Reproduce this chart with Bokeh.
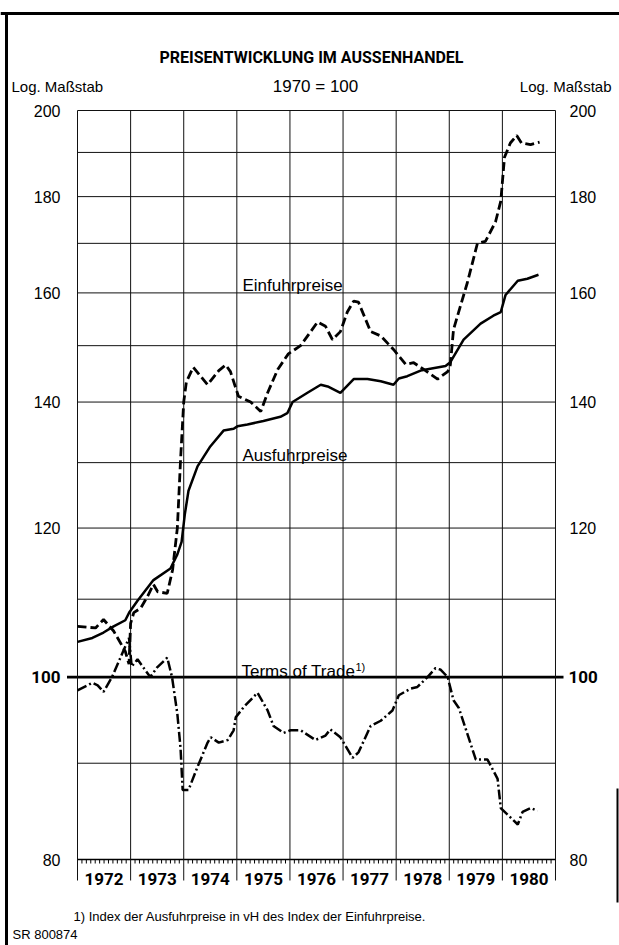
import math
from bokeh.plotting import figure
from bokeh.models import Range1d, Label, ColumnDataSource
from bokeh.core.properties import value
from bokeh.embed import file_html
from bokeh.resources import INLINE

# ---------------- data ----------------
einfuhr_t = [1972.00, 1972.34, 1972.49, 1972.68, 1972.90, 1972.97, 1973.00, 1973.06, 1973.19,
             1973.32, 1973.43, 1973.51, 1973.69, 1973.79, 1973.88, 1973.94, 1974.00, 1974.05,
             1974.18, 1974.45, 1974.66, 1974.79, 1974.88, 1975.03, 1975.26, 1975.45, 1975.58,
             1975.77, 1975.97, 1976.20, 1976.52, 1976.67, 1976.80, 1976.95, 1977.08, 1977.20,
             1977.29, 1977.52, 1977.71, 1977.95, 1978.18, 1978.33, 1978.52, 1978.78, 1978.97,
             1979.02, 1979.08, 1979.34, 1979.53, 1979.68, 1979.87, 1979.97, 1980.04, 1980.15,
             1980.27, 1980.36, 1980.53, 1980.70]
einfuhr_v = [106.4, 106.2, 107.3, 105.8, 103.2, 101.6, 106.8, 108.2, 108.8,
             110.4, 112.0, 111.0, 110.8, 114.0, 120.0, 130.4, 140.0, 143.5,
             146.1, 143.0, 145.5, 146.5, 145.3, 141.0, 140.0, 138.4, 141.6,
             145.7, 148.5, 150.0, 154.4, 153.6, 151.1, 152.6, 156.3, 158.4,
             158.2, 152.6, 151.8, 149.3, 146.6, 146.9, 145.7, 144.0, 145.3,
             146.5, 153.0, 162.0, 170.0, 170.4, 174.5, 179.0, 188.9, 192.2,
             194.0, 192.2, 191.8, 192.4]

ausfuhr_t = [1972.00, 1972.28, 1972.49, 1972.68, 1972.90, 1972.98, 1973.13, 1973.43, 1973.75,
             1973.88, 1973.96, 1974.02, 1974.09, 1974.26, 1974.50, 1974.75, 1974.94, 1975.01,
             1975.20, 1975.50, 1975.82, 1975.95, 1976.05, 1976.33, 1976.58, 1976.71, 1976.95,
             1977.20, 1977.46, 1977.71, 1977.95, 1978.05, 1978.21, 1978.46, 1978.93, 1979.02,
             1979.27, 1979.59, 1979.83, 1979.97, 1980.06, 1980.29, 1980.47, 1980.68]
ausfuhr_v = [104.4, 104.9, 105.6, 106.4, 107.2, 108.3, 109.8, 112.6, 114.2,
             116.2, 118.0, 122.0, 125.6, 129.4, 132.6, 135.2, 135.5, 135.9,
             136.2, 136.8, 137.5, 138.1, 140.0, 141.6, 143.0, 142.7, 141.6,
             144.0, 144.0, 143.6, 143.0, 144.1, 144.5, 145.5, 146.3, 147.0,
             151.1, 154.1, 155.6, 156.3, 159.6, 162.4, 162.8, 163.6]

tot_t = [1972.00, 1972.28, 1972.38, 1972.49, 1972.65, 1972.86, 1972.97, 1973.02, 1973.13,
         1973.37, 1973.50, 1973.69, 1973.78, 1973.88, 1973.94, 1973.98, 1974.09, 1974.26,
         1974.45, 1974.51, 1974.66, 1974.83, 1974.94, 1974.98, 1975.13, 1975.39, 1975.58,
         1975.69, 1975.88, 1976.01, 1976.20, 1976.48, 1976.67, 1976.76, 1976.95, 1977.18,
         1977.29, 1977.52, 1977.71, 1977.93, 1978.05, 1978.27, 1978.40, 1978.59, 1978.74,
         1978.84, 1978.97, 1979.08, 1979.18, 1979.50, 1979.72, 1979.91, 1979.97, 1980.29,
         1980.38, 1980.53, 1980.66]
tot_v = [98.4, 99.3, 99.0, 98.2, 100.0, 103.2, 104.9, 101.3, 102.2,
         100.0, 101.2, 102.4, 100.0, 95.6, 91.7, 87.1, 87.1, 89.6,
         92.3, 92.9, 92.3, 92.6, 93.7, 95.2, 96.4, 98.1, 96.0,
         94.2, 93.4, 93.7, 93.7, 92.6, 93.1, 93.8, 92.9, 90.6,
         91.2, 94.2, 94.8, 96.0, 97.8, 98.6, 98.8, 100.0, 101.1,
         100.9, 100.0, 97.2, 96.3, 90.4, 90.4, 88.3, 85.2, 83.5,
         84.8, 85.2, 84.9]

years = [1972, 1973, 1974, 1975, 1976, 1977, 1978, 1979, 1980]
year_labels = ["1972", "1973", "1974", "1975", "1976", "1977", "1978", "1979", "1980"]
y_tick_values = [80, 120, 140, 160, 180, 200]
y_tick_bold = [100]
y_grid = [80, 90, 110, 120, 130, 140, 150, 160, 170, 180, 190, 200]

# ---------------- layout helpers (page pixel -> data, for placing texts) ----------------
W, H = 619, 945
PX_YEAR = 53.11                   # pixels per year
X_1972 = 77                       # page x of 1972
K = math.log(2.5) / 749           # log units per pixel (80 -> 200 spans 749 px)
Y_80 = 859                        # page y of the 80 line

def xv(px):
    return 1972 + (px - X_1972) / PX_YEAR

def yv(py):
    return 80 * math.exp((Y_80 - py) * K)

X0, X1 = 1972, 1981
STRIP = yv(880)                   # bottom of the year strip

p = figure(width=W, height=H, frame_width=W, frame_height=H,
           x_range=Range1d(xv(0), xv(W)), y_range=Range1d(yv(H), yv(0)),
           y_axis_type="log", x_axis_location=None, y_axis_location=None,
           output_backend="svg", toolbar_location=None,
           min_border=0, background_fill_color="white", border_fill_color="white")
p.xgrid.visible = False
p.ygrid.visible = False
p.outline_line_color = None

FONT = "Liberation Sans"
BOLD = "Roboto"
INK = "#111111"

# horizontal grid
p.segment(x0=[X0] * len(y_grid), y0=y_grid, x1=[X1] * len(y_grid), y1=y_grid,
          line_color=INK, line_width=1)
p.segment(x0=[X0], y0=[80], x1=[X1], y1=[80], line_color="black", line_width=1.6)
# bold 100 line, extended beyond the frame
p.segment(x0=[xv(66.5)], y0=[100], x1=[xv(563)], y1=[100], line_color="black", line_width=2.6)
# vertical year lines, through the label strip
bounds = years + [1981]
p.segment(x0=bounds, y0=[STRIP] * len(bounds), x1=bounds, y1=[200] * len(bounds),
          line_color=INK, line_width=1)
# monthly ticks below the 80 line
months = [X0 + m / 12 for m in range(1, 108) if m % 12]
p.segment(x0=months, y0=[80] * len(months), x1=months, y1=[yv(Y_80 + 4)] * len(months),
          line_color="black", line_width=1)

# page frame (scan border)
p.segment(x0=[xv(0), xv(6)], y0=[yv(13), yv(12)], x1=[xv(W), xv(6)], y1=[yv(13), yv(H)],
          line_color="black", line_width=3)
p.segment(x0=[xv(617)], y0=[yv(788)], x1=[xv(617)], y1=[yv(902)], line_color="black", line_width=2)

# year labels
src_years = ColumnDataSource(dict(x=[y + 0.5 for y in years], y=[yv(878)] * len(years), t=year_labels))
p.text(x="x", y="y", text="t", source=src_years, text_font=value(BOLD),
       text_font_style="bold", text_font_size="17px", text_align="center",
       text_baseline="alphabetic", text_color="black")

# y tick labels, both sides
lbl = [str(v) for v in y_tick_values]
src_l = ColumnDataSource(dict(x=[xv(60)] * len(lbl), y=y_tick_values, t=lbl))
src_r = ColumnDataSource(dict(x=[xv(569)] * len(lbl), y=y_tick_values, t=lbl))
for src, al in ((src_l, "right"), (src_r, "left")):
    p.text(x="x", y="y", text="t", source=src, text_font=value(FONT), text_font_size="16px",
           text_align=al, text_baseline="middle", text_color="black")
lblb = [str(v) for v in y_tick_bold]
src_lb = ColumnDataSource(dict(x=[xv(60)] * len(lblb), y=y_tick_bold, t=lblb))
src_rb = ColumnDataSource(dict(x=[xv(568)] * len(lblb), y=y_tick_bold, t=lblb))
for src, al in ((src_lb, "right"), (src_rb, "left")):
    p.text(x="x", y="y", text="t", source=src, text_font=value(BOLD), text_font_style="bold",
           text_font_size="17px", text_align=al, text_baseline="middle", text_color="black")

# data lines
p.line(einfuhr_t, einfuhr_v, line_color="black", line_width=2.8, line_dash="9 4")
p.line(ausfuhr_t, ausfuhr_v, line_color="black", line_width=2.5)
p.line(tot_t, tot_v, line_color="black", line_width=2.5, line_dash="10 3 2 3")

def lab(text, x, y, size="16px", font=FONT, bold=False, align="left", base="alphabetic"):
    p.add_layout(Label(x=x, y=y, text=text, text_font=font,
                       text_font_size=size, text_font_style="bold" if bold else "normal",
                       text_align=align, text_baseline=base, text_color="black"))

# series labels
lab("Einfuhrpreise", xv(242), yv(285), size="17px")
lab("Ausfuhrpreise", xv(242), yv(455), size="17px")
lab("Terms of Trade", xv(241), yv(671), size="17px")
lab("1)", xv(355), yv(666), size="11px")

# header
lab("PREISENTWICKLUNG IM AUSSENHANDEL", xv(311), yv(57), size="16px",
    font=BOLD, bold=True, align="center", base="middle")
lab("Log. Maßstab", xv(11), yv(86), size="15px", base="middle")
lab("Log. Maßstab", xv(611), yv(86), size="15px", align="right", base="middle")
lab("1970 = 100", xv(315), yv(86), size="17px", align="center", base="middle")

# footnotes
lab("1) Index der Ausfuhrpreise in vH des Index der Einfuhrpreise.", xv(73), yv(916), size="13px")
lab("SR 800874", xv(12), yv(934), size="13px")

open("out.html", "w").write(file_html(p, INLINE))
